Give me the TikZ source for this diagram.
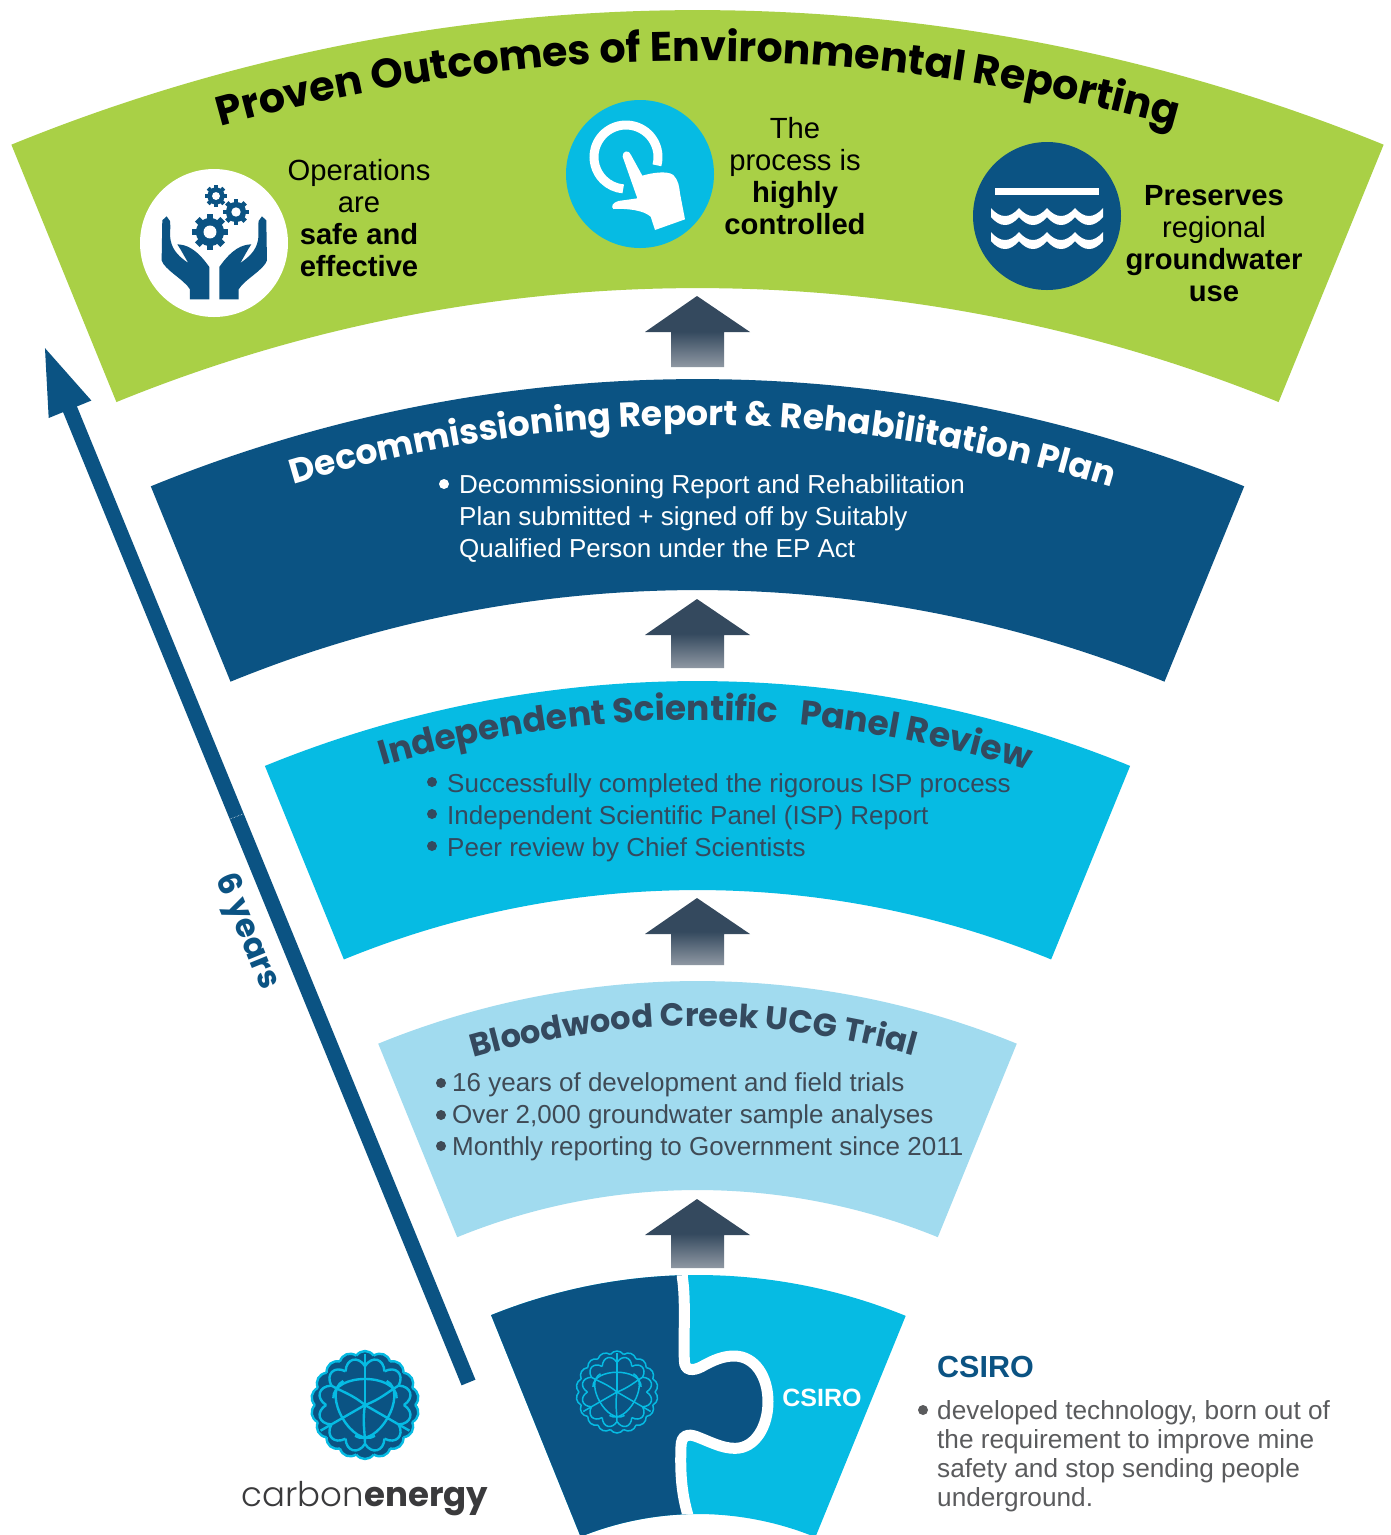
\documentclass[tikz,border=0pt]{standalone}
\usepackage{fontspec}
\setmainfont{Liberation Sans}
\newfontfamily\headfont{Poppins}
\newfontfamily\logolight{Poppins Light}
\usepackage{tikz}
\usetikzlibrary{calc}
\usetikzlibrary{arrows.meta}
\usetikzlibrary{decorations.text}

\definecolor{bandgreen}{HTML}{A9D046}
\definecolor{bandnavy}{HTML}{0B5383}
\definecolor{bandcyan}{HTML}{06BBE3}
\definecolor{bandpale}{HTML}{A1DBEF}
\definecolor{slate}{HTML}{34495E}
\definecolor{arrowgrey}{HTML}{8F98A3}
\definecolor{listgrey}{HTML}{3F4A55}
\definecolor{notegrey}{HTML}{5A5B5D}
\definecolor{logoink}{HTML}{3A3A3C}

\tikzset{
    bodytext/.style = {inner sep = 0, align = left, anchor = west, font = \fontsize{26}{32}\selectfont},
    sidetext/.style = {inner sep = 0, align = center, text = black, font = \fontsize{29.2}{32}\selectfont},
    arctitle/.style = {decorate, decoration = {text along path, text align = center, text = {#1}}},
}

\newcommand{\gearicon}[3]{
    \begin{scope}[shift = {(#1, #2)}, scale = #3]
        \fill [bandnavy] (0, 0) circle (0.78);
        \foreach \a in {0, 45, ..., 315} {
            \fill [bandnavy, rotate = \a] (0.6, -0.18) rectangle (1, 0.18);
        }
        \fill [white] (0, 0) circle (0.36);
    \end{scope}
}

\newcommand{\logoball}[4]{
    \begin{scope}[shift = {(#1, #2)}, scale = #3]
        \fill [bandnavy] (0, 0) circle (0.95);
        \foreach \a in {0, 20, ..., 340} {
            \fill [bandnavy] (\a:0.93) .. controls (\a + 6:1.03) and (\a + 14:1.03) .. (\a + 20:0.93) -- cycle;
            \draw [bandcyan, line width = #4] (\a:0.93) .. controls (\a + 6:1.03) and (\a + 14:1.03) .. (\a + 20:0.93);
        }
        \foreach \a in {0, 30, ..., 330} {
            \draw [bandcyan, line width = #4] (\a:0.72) .. controls (\a + 8:0.93) and (\a + 22:0.93) .. (\a + 30:0.72);
        }
        \foreach \a in {90, 210, 330} {
            \draw [bandcyan, line width = #4] (0, 0) -- (\a:0.95);
            \draw [bandcyan, line width = #4] (0, 0) .. controls (\a + 50:0.3) and (\a + 60:0.5) .. (\a + 60:0.72);
            \draw [bandcyan, line width = #4] (\a + 78:0.6) .. controls (\a + 45:0.85) and (\a - 45:0.85) .. (\a - 78:0.6);
        }
    \end{scope}
}

\begin{document}
\begin{tikzpicture}[x = 1pt, y = 1pt]
    \fill [white] (0, 0) rectangle (1391, -1535);
    \useasboundingbox (0, 0) rectangle (1391, -1535);
    \coordinate (fan) at (697.5, -1826);

    \foreach \i\j\k in {1816/1538/bandgreen, 1447/1236/bandnavy, 1145/936/bandcyan, 845/636/bandpale} {
        \fill [\k] ($(fan) + (112.2:\i)$) arc (112.2:67.8:\i) -- ($(fan) + (67.8:\j)$) arc (67.8:112.2:\j) -- cycle;
    }

    \foreach \i\j\k in {296/332/367, 599/635/668, 898/934/965, 1199/1235/1268} {
        \shade [top color = slate, bottom color = arrowgrey, middle color = slate] (697, -\i) -- (750, -\j) -- (724, -\j) -- (724, -\k) -- (671, -\k) -- (671, -\j) -- (645, -\j) -- cycle;
    }

    \begin{scope}
        \clip ($(fan) + (112:551)$) arc (112:67.8:551) -- ($(fan) + (67.8:312)$) arc (67.8:112:312) -- cycle;
        \fill [bandcyan] (480, -1260) rectangle (920, -1540);
        \begin{scope}[shift = {(480, -1260)}, scale = 1/3]
            \filldraw [fill = bandnavy, draw = white, line width = 11pt] (607, 0) -- (607, -52) .. controls (618, -120) and (610, -230) .. (613, -300) .. controls (613, -335) and (640, -333) .. (665, -320) .. controls (700, -300) and (730, -288) .. (762, -288) .. controls (825, -288) and (864, -350) .. (864, -425) .. controls (864, -500) and (825, -565) .. (765, -565) .. controls (725, -565) and (690, -545) .. (650, -530) .. controls (625, -520) and (603, -525) .. (603, -560) .. controls (600, -640) and (605, -700) .. (623, -763) -- (640, -900) -- (-40, -900) -- (-40, 0) -- cycle;
        \end{scope}
    \end{scope}

    \coordinate (yearsfoot) at (468.5, -1382.5);
    \coordinate (yearstip) at (43.5, -344.5);
    \draw [bandnavy, line width = 15pt, -{Triangle[length = 70pt, width = 41pt]}] (yearsfoot) -- (yearstip);
    \draw [white, line width = 0.5pt, densely dotted] (230, -819) -- (243, -814);
    \node [rotate = -67.8, text = bandnavy, inner sep = 0, font = \headfont\bfseries\fontsize{32.5}{32.5}\selectfont] (yearslabel) at (246, -932) {6 years};

    \path [arctitle = {|\headfont\bfseries\fontsize{41.2}{41.2}\selectfont\color{black}|Proven Outcomes of Environmental Reporting}] ($(fan) + (112:1765)$) arc (112:68:1765);
    \path [arctitle = {|\headfont\bfseries\fontsize{34.6}{34.6}\selectfont\color{white}|Decommissioning Report {\&} Rehabilitation Plan}] ($(fan) + (111.8:1401)$) arc (111.8:67.8:1401);
    \path [arctitle = {|\headfont\bfseries\fontsize{34.5}{34.5}\selectfont\color{slate}|Independent Scientific {\hspace*{14pt}}Panel Review}] ($(fan) + (111.6:1106)$) arc (111.6:67.6:1106);
    \path [arctitle = {|\headfont\bfseries\fontsize{32}{32}\selectfont\color{slate}|Bloodwood Creek UCG Trial}] ($(fan) + (112.3:800)$) arc (112.3:68.3:800);

    \fill [white] (214, -243) circle (74);
    \fill [bandcyan] (640, -174) circle (74);
    \fill [bandnavy] (1047, -216) circle (74);

    \gearicon{210}{-232}{18}
    \gearicon{236}{-212}{13}
    \gearicon{216}{-196}{11}
    \foreach \s in {1, -1} {
        \begin{scope}[shift = {(214.3, -243)}, xscale = \s/3, yscale = 1/3]
            \fill [bandnavy] (-143, 80) -- (-133, 66) .. controls (-130, 40) and (-135, 25) .. (-131, 8) .. controls (-125, -25) and (-100, -45) .. (-78, -60) .. controls (-90, -40) and (-100, -20) .. (-111, -4) .. controls (-85, -5) and (-55, -15) .. (-15, -72) -- (-15, -169) -- (-73, -169) -- (-73, -139) .. controls (-90, -110) and (-150, -80) .. (-158, -52) -- (-156, 68) -- cycle;
        \end{scope}
    }

    \draw [white, line width = 9pt] (626, -157) ++(-15:32) arc (-15:265:32);
    \begin{scope}[shift = {(550, -90)}, scale = 1/3]
        \fill [white] (218, -200) .. controls (216, -182) and (238, -178) .. (243, -195) -- (277, -257) .. controls (300, -250) and (350, -240) .. (370, -255) .. controls (385, -270) and (388, -290) .. (390, -310) -- (405, -388) -- (315, -420) -- (302, -380) .. controls (280, -360) and (230, -355) .. (190, -357) .. controls (182, -350) and (188, -338) .. (205, -333) -- (262, -325) -- cycle;
    \end{scope}

    \fill [white] (995, -188) rectangle (1099, -195);
    \foreach \y in {208, 232} {
        \foreach \x in {991, 1019, 1047, 1075} {
            \fill [white] (\x, -\y) .. controls (\x + 9, -\y - 10.7) and (\x + 19, -\y - 10.7) .. (\x + 28, -\y) -- (\x + 28, -\y - 9) .. controls (\x + 19, -\y - 19.7) and (\x + 9, -\y - 19.7) .. (\x, -\y - 9) -- cycle;
        }
    }

    \node [sidetext] (safetext) at (359, -218) {Operations\\are\\\textbf{safe and}\\\textbf{effective}};
    \node [sidetext] (controltext) at (795, -176) {The\\process is\\\textbf{highly}\\\textbf{controlled}};
    \node [sidetext] (watertext) at (1214, -244) {\textbf{Preserves}\\regional\\\textbf{groundwater}\\\textbf{use}};

    \fill [white] (444, -484) circle (5);
    \node [bodytext, text = white] (reporttext) at (459, -519) {Decommissioning Report and Rehabilitation\\Plan submitted + signed off by Suitably\\Qualified Person under the EP Act};

    \foreach \y in {782, 814, 846} {
        \fill [slate] (432, -\y) circle (5);
    }
    \node [bodytext, text = slate] (paneltext) at (447, -818) {Successfully completed the rigorous ISP process\\Independent Scientific Panel (ISP) Report\\Peer review by Chief Scientists};

    \foreach \y in {1083, 1115, 1146} {
        \fill [listgrey] (441, -\y) circle (5);
    }
    \node [bodytext, text = listgrey] (trialtext) at (452, -1117) {16 years of development and field trials\\Over 2,000 groundwater sample analyses\\Monthly reporting to Government since 2011};

    \logoball{365}{-1405}{54}{2.4pt}
    \logoball{617}{-1392}{41}{1.5pt}
    \node [inner sep = 0, text = white, font = \bfseries\fontsize{25}{25}\selectfont] (csirotag) at (822, -1398) {CSIRO};
    \node [inner sep = 0, text = logoink, font = \fontsize{34}{34}\selectfont] (logoword) at (365, -1499) {{\logolight carbon}{\headfont\bfseries energy}};

    \node [inner sep = 0, anchor = west, text = bandnavy, font = \bfseries\fontsize{30.5}{32}\selectfont] (csirohead) at (937, -1367) {CSIRO};
    \fill [notegrey] (923, -1410) circle (5);
    \node [inner sep = 0, align = left, anchor = west, text = notegrey, font = \fontsize{26.2}{29}\selectfont] (csironote) at (937, -1456) {developed technology, born out of\\the requirement to improve mine\\safety and stop sending people\\underground.};
\end{tikzpicture}
\end{document}
